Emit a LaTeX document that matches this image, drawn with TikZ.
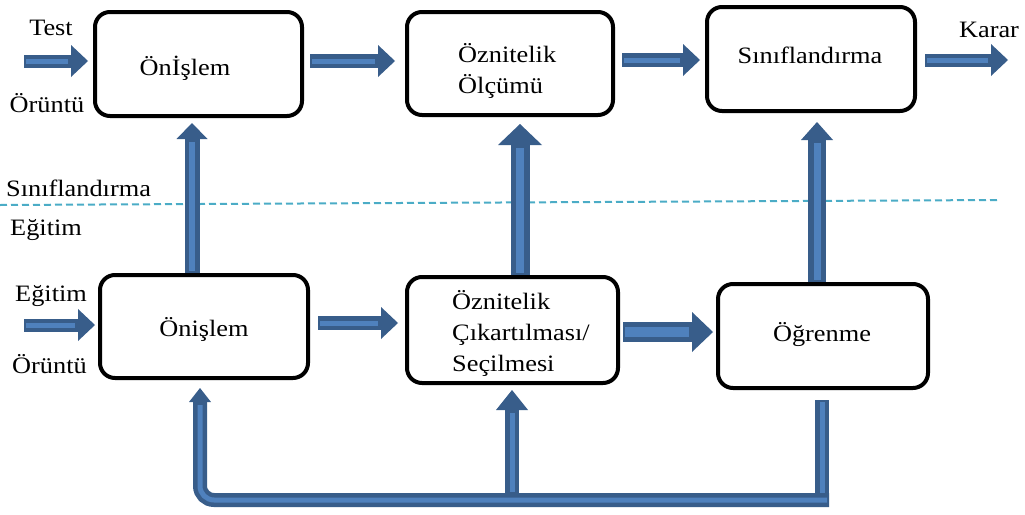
\documentclass[tikz,border=0pt]{standalone}
\usepackage{fontspec}
\setmainfont{Liberation Serif}[FakeStretch=1.12]
\usetikzlibrary{arrows.meta,calc}
\definecolor{arrowedge}{HTML}{385D8A}
\definecolor{arrowfill}{HTML}{4F81BD}
\definecolor{splitline}{HTML}{4BACC6}

\begin{document}
\begin{tikzpicture}[x=1pt,y=-1pt,
  box/.style={draw=black, line width=4pt, rounded corners=15pt, inner sep=0pt},
  lbl/.style={font=\fontsize{23.5}{31}\selectfont, inner sep=0pt},
  % block arrow: shaft width, head width, head length, inner stripe width
  barrow/.style n args={4}{draw=arrowedge, line width=#1,
    -{Triangle[width=#2,length=#3,line width=0pt]},
    postaction={draw=arrowfill, line width=#4, arrows=-, shorten >=#3+3pt, shorten <=2pt}},
  bar/.style n args={2}{draw=arrowedge, line width=#1,
    postaction={draw=arrowfill, line width=#2, shorten >=2pt, shorten <=2pt}},
  split/.style={draw=splitline, line width=2pt, dash pattern=on 7pt off 4pt},
]
\useasboundingbox (0,0) rectangle (1025,514);

% boxes
\node[box, minimum width=207pt, minimum height=104pt] (b1) at (198.5,64) {};
\node[box, minimum width=206pt, minimum height=103pt] (b2) at (510,63.5) {};
\node[box, minimum width=208pt, minimum height=104pt] (b3) at (811,59) {};
\node[box, minimum width=208pt, minimum height=103pt] (b4) at (204,326.5) {};
\node[box, minimum width=211pt, minimum height=106pt] (b5) at (512.5,330) {};
\node[box, minimum width=210pt, minimum height=104pt] (b6) at (823,336) {};

% box texts (multi-line texts are placed by their last baseline)
\node[lbl, anchor=base] (t1) at (185,75) {Önİşlem};
\node[lbl, anchor=base west, align=left] (t2) at (458,93) {Öznitelik\\Ölçümü};
\node[lbl, anchor=base] (t3) at (810,63) {Sınıflandırma};
\node[lbl, anchor=base] (t4) at (204,336) {Önişlem};
\node[lbl, anchor=base west, align=left] (t5) at (452,371) {Öznitelik\\Çıkartılması/\\Seçilmesi};
\node[lbl, anchor=base] (t6) at (822,341) {Öğrenme};

% side labels
\node[lbl, anchor=base] (test) at (51,35) {Test};
\node[lbl, anchor=base] (or1) at (47,112) {Örüntü};
\node[lbl, anchor=base] (karar) at (989,37) {Karar};
\node[lbl, anchor=base west] (sinif) at (6,196) {Sınıflandırma};
\node[lbl, anchor=base west] (egt1) at (10,235) {Eğitim};
\node[lbl, anchor=base west] (egt2) at (15,301) {Eğitim};
\node[lbl, anchor=base west] (or2) at (12,373) {Örüntü};

% separator between classification and training
\coordinate (dL) at (0,205);
\coordinate (dR) at (1000,200);
\draw[split] (dL) -- (dR);

% free ends
\coordinate (in1) at (24,61);
\coordinate (in2) at (24,325);
\coordinate (out) at (1008,60);
\coordinate (fbR) at (822,500);
\coordinate (fbM) at (512,500);
\coordinate (fbL) at (200,500);

% classification row
\draw[barrow={13pt}{32pt}{17pt}{5pt}] (in1) -- ($(b1.west)+(-5,-3)$);
\draw[barrow={14pt}{32pt}{17pt}{5pt}] ($(b1.east)+(6,-3)$) -- ($(b2.west)+(-10,-2.5)$);
\draw[barrow={14pt}{32pt}{17pt}{5pt}] ($(b2.east)+(7,-3.5)$) -- ($(b3.west)+(-5,1)$);
\draw[barrow={13pt}{32pt}{17pt}{5pt}] ($(b3.east)+(8,1)$) -- (out);

% training row
\draw[barrow={13pt}{32pt}{17pt}{5pt}] (in2) -- ($(b4.west)+(-3,-1.5)$);
\draw[barrow={14pt}{32pt}{17pt}{5pt}] ($(b4.east)+(8,-3.5)$) -- ($(b5.west)+(-7,-7)$);
\draw[barrow={20pt}{40pt}{21pt}{10pt}] ($(b5.east)+(3,2)$) -- ($(b6.west)+(-3,-4)$);

% training to classification
\draw[barrow={15pt}{31pt}{16pt}{6pt}] ($(b4.north)+(-12,0)$) -- ($(b1.south)+(-6.5,5)$);
\draw[barrow={19pt}{44pt}{21pt}{8pt}] ($(b5.north)+(7.5,0)$) -- ($(b2.south)+(10,7)$);
\draw[barrow={18pt}{32pt}{18pt}{7pt}] ($(b6.north)+(-6,0)$) -- ($(b3.south)+(6,9)$);

% feedback loop
\draw[bar={14pt}{5pt}] ($(b6.south)+(-1,10)$) -- ($(fbR)+(0,7)$);
\draw[barrow={14pt}{22pt}{14pt}{5pt}, rounded corners=14pt] ($(fbR)+(7,0)$) -- (fbL) -- ($(b4.south)+(-4,8)$);
\draw[barrow={14pt}{32pt}{20pt}{5pt}] ($(fbM)+(0,-6)$) -- ($(b5.south)+(-0.5,5)$);
\end{tikzpicture}
\end{document}
